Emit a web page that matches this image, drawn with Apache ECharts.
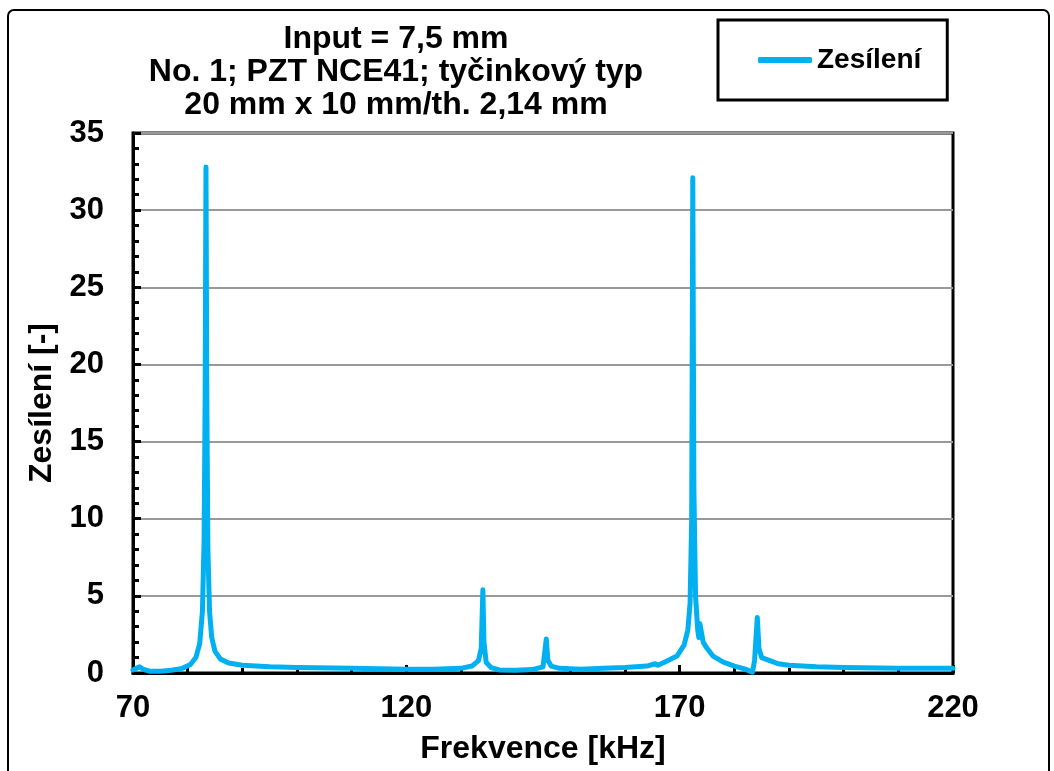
<!DOCTYPE html>
<html>
<head>
<meta charset="utf-8">
<script src="https://cdn.jsdelivr.net/npm/echarts@6/dist/echarts.min.js"></script>
<style>
html,body{margin:0;padding:0;background:#fff;}
#c{width:1054px;height:771px;}
</style>
</head>
<body>
<div id="c"></div>
<script>
const titleLines = ['Input = 7,5 mm', 'No. 1; PZT NCE41; tyčinkový typ', '20 mm x 10 mm/th. 2,14 mm'];
const seriesName = 'Zesílení';
const xTitle = 'Frekvence [kHz]';
const yTitle = 'Zesílení [-]';
const freq = [70.0,70.6,71.2,71.8,73,75,77,79,80.5,81.5,82.2,82.7,83.0,83.2,83.35,83.5,83.7,84.0,84.4,85.0,86.0,87.5,90,95,100,110,120,125,130,132,133.2,133.7,134.0,134.2,134.6,135.5,137,140,143,145,145.6,145.9,146.5,148,152,156,160,164,165.5,166,167.5,169.5,170.8,171.5,171.9,172.2,172.4,172.6,172.9,173.3,173.5,173.7,174.3,175,176.1,178,180,182,183.3,183.7,184.2,184.5,185,186.5,188,190,195,200,210,220];
const gain = [0.2,0.3,0.4,0.25,0.12,0.12,0.18,0.3,0.55,1.0,1.9,4.0,8.5,18,32.8,18,8,4,2.3,1.4,0.9,0.65,0.5,0.4,0.35,0.3,0.25,0.25,0.3,0.45,0.8,1.6,5.4,2.0,0.7,0.35,0.2,0.18,0.22,0.4,2.2,0.8,0.45,0.3,0.25,0.3,0.35,0.45,0.6,0.5,0.75,1.1,1.8,2.8,4.5,10,32.1,12,5,2.8,2.3,3.2,2.0,1.6,1.1,0.7,0.45,0.25,0.05,0.8,3.6,1.6,1.0,0.8,0.6,0.5,0.4,0.35,0.3,0.3];
const xMin = 70, xMax = 220, xStep = 50;
const yMin = 0, yMax = 35, yStep = 5;

const data = freq.map((f, i) => [f, gain[i]]);
const FONT = 'Liberation Sans, Arial, sans-serif';
const chart = echarts.init(document.getElementById('c'), null, {renderer: 'canvas'});
chart.setOption({
  animation: false,
  backgroundColor: '#fff',
  title: {
    text: titleLines.join('\n'),
    left: 391, top: 18, textAlign: 'center',
    textStyle: {fontFamily: FONT, fontWeight: 'bold', fontSize: 32, lineHeight: 33, color: '#000'}
  },
  legend: {
    left: 718, top: 20,
    padding: [24, 26, 24, 40],
    borderColor: '#000', borderWidth: 3, borderRadius: 0,
    itemWidth: 54, itemHeight: 6,
    icon: 'roundRect',
    textStyle: {fontFamily: FONT, fontWeight: 'bold', fontSize: 28, color: '#000', lineHeight: 32},
    data: [seriesName]
  },
  graphic: [{
    type: 'rect', shape: {x: 8, y: 10, width: 1041, height: 800, r: 6},
    style: {fill: 'none', stroke: '#000', lineWidth: 2}, silent: true, z: -1
  }],
  grid: {left: 133, top: 133, right: 101, bottom: 98, show: true, borderColor: '#000', borderWidth: 3, backgroundColor: 'transparent'},
  xAxis: {
    type: 'value', min: xMin, max: xMax, interval: xStep,
    name: xTitle, nameLocation: 'middle', nameGap: 60,
    nameTextStyle: {fontFamily: FONT, fontWeight: 'bold', fontSize: 32, color: '#000'},
    axisLine: {show: true, onZero: false, lineStyle: {color: '#000', width: 3}},
    axisTick: {show: true, inside: true, length: 8, lineStyle: {color: '#000', width: 3}},
    minorTick: {show: true, splitNumber: 5, length: 5, lineStyle: {color: '#000', width: 3}},
    axisLabel: {fontFamily: FONT, fontWeight: 'bold', fontSize: 31, color: '#000', margin: 20},
    splitLine: {show: false}
  },
  yAxis: {
    type: 'value', min: yMin, max: yMax, interval: yStep,
    name: yTitle, nameLocation: 'middle', nameGap: 73,
    nameTextStyle: {fontFamily: FONT, fontWeight: 'bold', fontSize: 32, color: '#000'},
    axisLine: {show: true, lineStyle: {color: '#000', width: 3}},
    axisTick: {show: true, inside: true, length: 8, lineStyle: {color: '#000', width: 3}},
    minorTick: {show: true, splitNumber: 5, length: 6, lineStyle: {color: '#000', width: 3}},
    axisLabel: {fontFamily: FONT, fontWeight: 'bold', fontSize: 31, color: '#000', margin: 29},
    splitLine: {show: true, lineStyle: {color: '#999', width: 2}}
  },
  series: [{
    name: seriesName, type: 'line', data: data,
    showSymbol: false, symbol: 'none',
    lineStyle: {color: '#00B0F0', width: 5, cap: 'round', join: 'round'},
    itemStyle: {color: '#00B0F0'},
    z: 3
  }]
});
</script>
</body>
</html>
